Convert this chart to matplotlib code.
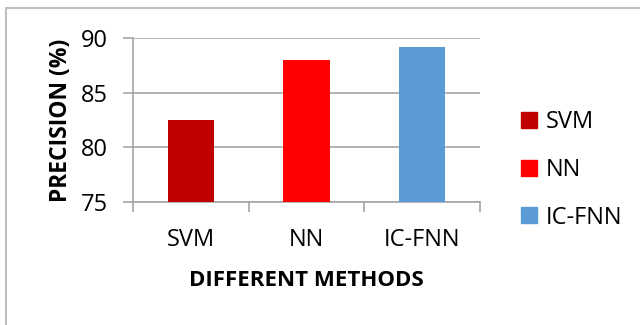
import matplotlib
matplotlib.use('Agg')
import matplotlib.pyplot as plt
from matplotlib.patches import Rectangle, Patch

plt.rcParams['font.family'] = ['Open Sans', 'DejaVu Sans']

methods = ['SVM', 'NN', 'IC-FNN']
precision = [82.5, 88.0, 89.2]
colors = ['#C00000', '#FF0000', '#5B9BD5']
yticks = [75, 80, 85, 90]

fig = plt.figure(figsize=(6.4, 3.25), dpi=100)
ax = fig.add_axes([133 / 640, 1 - 202 / 325, 347 / 640, 164 / 325])

x = range(len(methods))
ax.bar(x, precision, width=0.4, color=colors, zorder=3)

ax.set_xlim(-0.5, 2.5)
ax.set_ylim(75, 90)
ax.set_yticks(yticks)
ax.set_xticks(list(x))
ax.set_xticklabels(methods)
ax.set_xticks([-0.5, 0.5, 1.5, 2.5], minor=True)

grid_c = '#A6A6A6'
ax.yaxis.grid(True, color=grid_c, linewidth=1.2, zorder=0)
for s in ['top', 'right']:
    ax.spines[s].set_visible(False)
for s in ['left', 'bottom']:
    ax.spines[s].set_color(grid_c)
    ax.spines[s].set_linewidth(1.2)

ax.tick_params(axis='y', length=7, width=1.2, color=grid_c, pad=11, labelsize=17)
ax.tick_params(axis='x', which='major', length=0, pad=19, labelsize=17)
ax.tick_params(axis='x', which='minor', length=7, width=1.2, color=grid_c)

ax.set_xlabel('DIFFERENT METHODS', fontsize=16, fontweight='bold', labelpad=13)
ax.set_ylabel('PRECISION (%)', fontsize=16.5, fontweight='bold', labelpad=6)

handles = [Patch(color=c, label=m) for m, c in zip(methods, colors)]
fig.legend(handles=handles, loc='center left', bbox_to_anchor=(500 / 640, 1 - 170 / 325),
           frameon=False, fontsize=17, handlelength=0.65, handleheight=0.65,
           handletextpad=0.4, labelspacing=1.0)

fig.patches.append(Rectangle((6 / 640, -0.1), 1.1, 1 - 8 / 325 + 0.1,
                             transform=fig.transFigure, fill=False,
                             edgecolor='#BFBFBF', linewidth=1.5))

fig.savefig('out.png', dpi=100)
